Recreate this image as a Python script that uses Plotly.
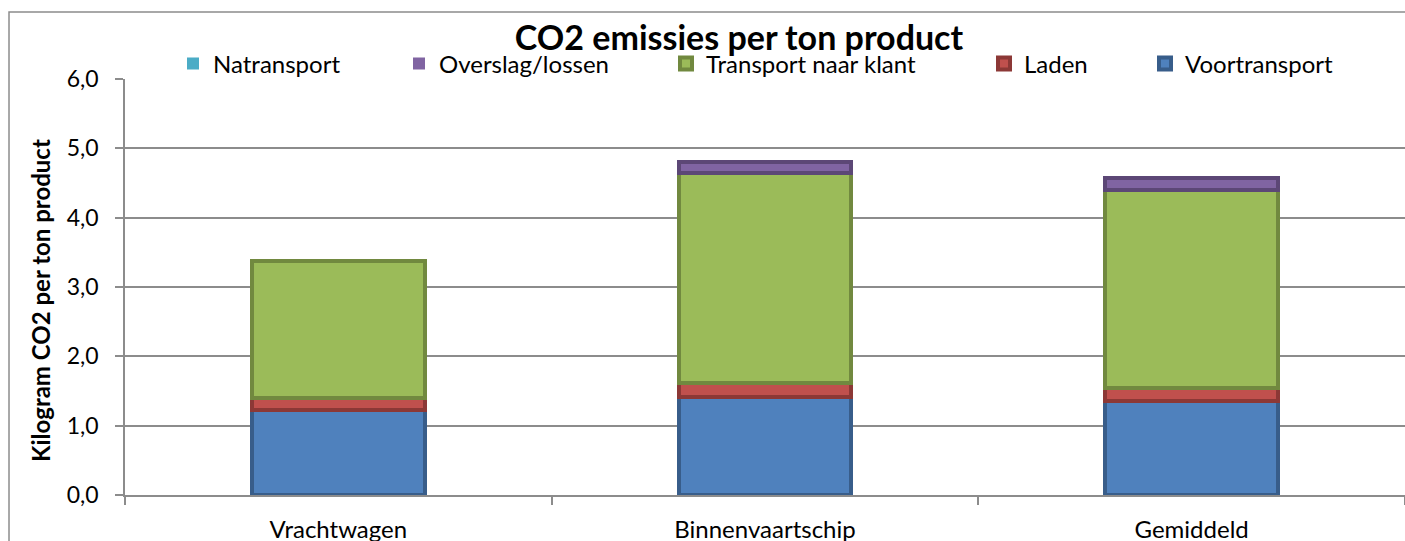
import plotly.graph_objects as go

categories = ["Vrachtwagen", "Binnenvaartschip", "Gemiddeld"]
voortransport = [1.22, 1.42, 1.36]
laden = [0.18, 0.20, 0.19]
transport_naar_klant = [1.98, 3.02, 2.85]
overslag_lossen = [0.0, 0.16, 0.17]
natransport = [0.0, 0.0, 0.0]

series = [
    ("Voortransport", voortransport, "#4F81BD", "#385D8A", 1145),
    ("Laden", laden, "#C0504D", "#8C3836", 984),
    ("Transport naar klant", transport_naar_klant, "#9BBB59", "#71893F", 666),
    ("Overslag/lossen", overslag_lossen, "#8064A2", "#5C4776", 399),
    ("Natransport", natransport, "#4BACC6", "#4BACC6", 173),
]

L, R, T, B = 125, 0, 79, 46
W, H = 1405, 541
pw = W - L - R
ph = H - T - B

fig = go.Figure()
font = "Lato, Open Sans, sans-serif"
legends = {}
for i, (name, vals, fill, edge, lx) in enumerate(series):
    lg = "legend" if i == 0 else f"legend{i+1}"
    widths = [4 if (v > 0 and name != "Natransport") else 0 for v in vals]
    fig.add_trace(go.Bar(
        x=categories, y=vals, name=name, legend=lg,
        marker=dict(color=fill, line=dict(color=edge, width=widths)),
    ))
    legends[lg] = dict(
        x=(lx - L) / pw, xanchor="left",
        y=(H - B - 64) / ph, yanchor="middle",
        orientation="h", bgcolor="rgba(0,0,0,0)",
        font=dict(family=font, size=24, color="black"),
        itemwidth=30,
    )

fig.update_layout(
    barmode="stack",
    bargap=0.595,
    width=W, height=H,
    margin=dict(l=L, r=R, t=T, b=B, autoexpand=False),
    paper_bgcolor="white", plot_bgcolor="white",
    separators=",.",
    font=dict(family=font, color="black"),
    title=dict(text="<b>CO2 emissies per ton product</b>", x=739 / W, xanchor="center",
               y=1 - 38 / H, yanchor="middle", yref="container",
               font=dict(family=font, size=34, color="black")),
    showlegend=True,
    **legends,
)

fig.update_yaxes(
    range=[0, 6], dtick=1, tickformat=".1f",
    showgrid=True, gridcolor="#8C8C8C", gridwidth=1.5,
    showline=True, linecolor="#8C8C8C", linewidth=1.5,
    ticks="outside", ticklen=8, tickcolor="#8C8C8C", tickwidth=1.5,
    ticklabelstandoff=12, automargin=False,
    tickfont=dict(family=font, size=23, color="black"),
    zeroline=False,
)
fig.update_xaxes(
    showline=True, linecolor="#8C8C8C", linewidth=2,
    ticks="outside", ticklen=8, tickcolor="#8C8C8C", tickwidth=1.5,
    tickson="boundaries", ticklabelstandoff=12, showgrid=False, automargin=False,
    tickfont=dict(family=font, size=24, color="black"),
)

fig.add_annotation(
    text="<b>Kilogram CO2 per ton product</b>", textangle=-90,
    xref="paper", yref="paper", x=(40 - L) / pw, y=(H - B - 301) / ph,
    xanchor="center", yanchor="middle", showarrow=False,
    font=dict(family=font, size=24, color="black"),
)

bx = (9 - L) / pw
by = (H - B - 12) / ph
fig.add_shape(type="path", xref="paper", yref="paper",
              path=f"M {bx:.5f},-0.2 L {bx:.5f},{by:.5f} L 1.01,{by:.5f}",
              line=dict(color="#8C8C8C", width=1.5), fillcolor="rgba(0,0,0,0)", layer="below")

fig.write_html("out.html")
